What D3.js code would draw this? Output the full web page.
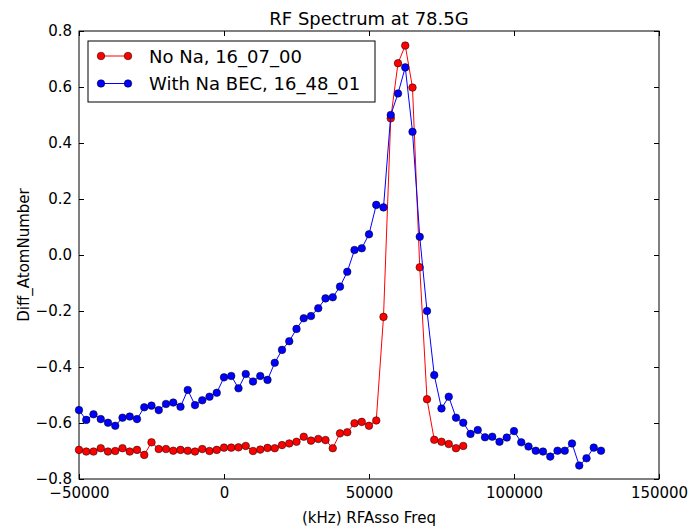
<!DOCTYPE html>
<html>
<head>
<meta charset="utf-8">
<script src="https://cdn.jsdelivr.net/npm/d3@7"></script>
<style>
  body { margin: 0; background: #fff; }
  svg { font-family: "DejaVu Sans", sans-serif; }
  .axis path, .axis line { stroke: #000; }
</style>
</head>
<body>
<div id="chart"></div>
<script>
// frequency grid (kHz)
var freqRed = [-50000, -47500, -45000, -42500, -40000, -37500, -35000, -32500, -30000, -27500,
  -25000, -22500, -20000, -17500, -15000, -12500, -10000, -7500, -5000, -2500,
  0, 2500, 5000, 7500, 10000, 12500, 15000, 17500, 20000, 22500,
  25000, 27500, 30000, 32500, 35000, 37500, 40000, 42500, 45000, 47500,
  50000, 52500, 55000, 57500, 60000, 62500, 65000, 67500, 70000, 72500,
  75000, 77500, 80000, 82500];
var valRed = [-0.696, -0.702, -0.702, -0.690, -0.702, -0.700, -0.690, -0.702, -0.696, -0.714,
  -0.669, -0.693, -0.693, -0.699, -0.696, -0.699, -0.702, -0.693, -0.700, -0.696,
  -0.688, -0.688, -0.687, -0.682, -0.700, -0.695, -0.689, -0.690, -0.679, -0.673,
  -0.667, -0.649, -0.663, -0.657, -0.661, -0.690, -0.637, -0.633, -0.601, -0.596,
  -0.610, -0.591, -0.221, 0.488, 0.685, 0.748, 0.598, -0.044, -0.515, -0.660,
  -0.667, -0.675, -0.690, -0.682];

var freqBlue = [-50000, -47500, -45000, -42500, -40000, -37500, -35000, -32500, -30000, -27500,
  -25000, -22500, -20000, -17500, -15000, -12500, -10000, -7500, -5000, -2500,
  0, 2500, 5000, 7500, 10000, 12500, 15000, 17500, 20000, 22500,
  25000, 27500, 30000, 32500, 35000, 37500, 40000, 42500, 45000, 47500,
  50000, 52500, 55000, 57500, 60000, 62500, 65000, 67500, 70000, 72500,
  75000, 77500, 80000, 82500, 85000, 87500, 90000, 92500, 95000, 97500,
  100000, 102500, 105000, 107500, 110000, 112500, 115000, 117500, 120000, 122500,
  125000, 127500, 130000];
var valBlue = [-0.554, -0.589, -0.569, -0.586, -0.599, -0.610, -0.581, -0.577, -0.586, -0.544,
  -0.538, -0.554, -0.532, -0.527, -0.542, -0.482, -0.536, -0.519, -0.506, -0.492,
  -0.437, -0.432, -0.476, -0.425, -0.452, -0.432, -0.446, -0.385, -0.339, -0.308,
  -0.264, -0.226, -0.218, -0.190, -0.155, -0.151, -0.113, -0.060, 0.018, 0.024,
  0.074, 0.179, 0.170, 0.500, 0.577, 0.670, 0.440, 0.065, -0.200, -0.429,
  -0.548, -0.506, -0.581, -0.599, -0.639, -0.625, -0.651, -0.649, -0.667, -0.652,
  -0.629, -0.669, -0.684, -0.699, -0.702, -0.720, -0.699, -0.699, -0.673, -0.752,
  -0.726, -0.688, -0.699];

var xTicks = [-50000, 0, 50000, 100000, 150000];
var yTicks = [-0.8, -0.6, -0.4, -0.2, 0.0, 0.2, 0.4, 0.6, 0.8];

var series = [
  { name: 'No Na, 16_07_00', color: '#ff0000', x: freqRed, y: valRed },
  { name: 'With Na BEC, 16_48_01', color: '#0000ff', x: freqBlue, y: valBlue }
];

var width = 691, height = 532;
var margin = { left: 79, top: 31, right: 32, bottom: 53 };
var w = width - margin.left - margin.right;
var h = height - margin.top - margin.bottom;

var svg = d3.select('#chart').append('svg')
  .attr('width', width)
  .attr('height', height);

var x = d3.scaleLinear().domain([-50000, 150000]).range([0, w]);
var y = d3.scaleLinear().domain([-0.8, 0.8]).range([h, 0]);

var g = svg.append('g')
  .attr('transform', 'translate(' + margin.left + ',' + margin.top + ')');

var minus = function(s) { return s.replace('-', '\u2212'); };

// axes, ticks pointing inwards on all four sides
g.append('g').attr('class', 'axis')
  .attr('transform', 'translate(0,' + h + ')')
  .call(d3.axisBottom(x).tickValues(xTicks).tickSize(-5).tickPadding(8)
    .tickFormat(function(d) { return minus(d3.format('d')(d)); }));
g.append('g').attr('class', 'axis')
  .call(d3.axisTop(x).tickValues(xTicks).tickSize(-5).tickFormat(''));
g.append('g').attr('class', 'axis')
  .call(d3.axisLeft(y).tickValues(yTicks).tickSize(-5).tickPadding(7)
    .tickFormat(function(d) { return minus(d3.format('.1f')(d)); }));
g.append('g').attr('class', 'axis')
  .attr('transform', 'translate(' + w + ',0)')
  .call(d3.axisRight(y).tickValues(yTicks).tickSize(-5).tickFormat(''));

g.selectAll('.axis path').attr('stroke-width', 1);
g.selectAll('.axis text').attr('font-size', 15).attr('fill', '#000')
  .attr('font-family', '"DejaVu Sans", sans-serif');
g.selectAll('.axis .domain').remove();

g.append('rect')
  .attr('width', w).attr('height', h)
  .attr('fill', 'none').attr('stroke', '#000').attr('stroke-width', 1);

var line = d3.line()
  .x(function(d) { return x(d[0]); })
  .y(function(d) { return y(d[1]); });

series.forEach(function(s) {
  var pts = s.x.map(function(v, i) { return [v, s.y[i]]; });
  g.append('path')
    .datum(pts)
    .attr('fill', 'none')
    .attr('stroke', s.color)
    .attr('stroke-width', 1)
    .attr('d', line);
  g.selectAll(null)
    .data(pts).enter()
    .append('circle')
    .attr('cx', function(d) { return x(d[0]); })
    .attr('cy', function(d) { return y(d[1]); })
    .attr('r', 3.8)
    .attr('fill', s.color)
    .attr('stroke', '#000')
    .attr('stroke-width', 0.5);
});

// legend
var leg = svg.append('g').attr('transform', 'translate(88,41)');
leg.append('rect')
  .attr('width', 287).attr('height', 61)
  .attr('fill', '#fff').attr('stroke', '#000').attr('stroke-width', 1);
series.forEach(function(s, i) {
  var yy = 15 + i * 27.5;
  leg.append('line')
    .attr('x1', 13).attr('x2', 40).attr('y1', yy).attr('y2', yy)
    .attr('stroke', s.color).attr('stroke-width', 1);
  [13, 40].forEach(function(cx) {
    leg.append('circle')
      .attr('cx', cx).attr('cy', yy).attr('r', 3.8)
      .attr('fill', s.color).attr('stroke', '#000').attr('stroke-width', 0.5);
  });
  leg.append('text')
    .attr('x', 61).attr('y', yy + 6.5)
    .attr('font-size', 18)
    .text(s.name);
});

// title and axis labels
svg.append('text')
  .attr('x', margin.left + w / 2).attr('y', 25)
  .attr('text-anchor', 'middle')
  .attr('font-size', 18)
  .text('RF Spectrum at 78.5G');

svg.append('text')
  .attr('x', margin.left + w / 2).attr('y', 523)
  .attr('text-anchor', 'middle')
  .attr('font-size', 15)
  .text('(kHz) RFAsso Freq');

svg.append('text')
  .attr('transform', 'translate(29,' + (margin.top + h / 2) + ') rotate(-90)')
  .attr('text-anchor', 'middle')
  .attr('font-size', 15)
  .text('Diff_AtomNumber');
</script>
</body>
</html>
